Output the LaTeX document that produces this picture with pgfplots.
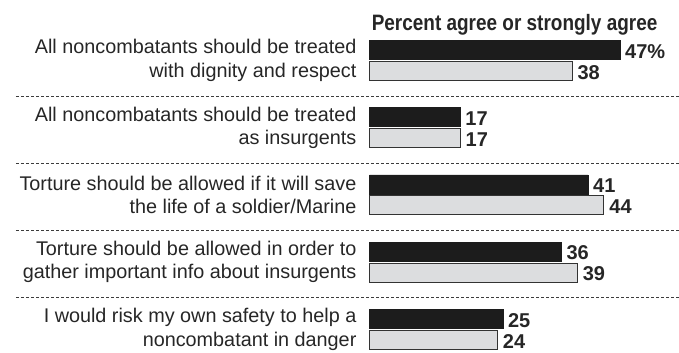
\documentclass[border=0pt]{standalone}
\usepackage{fontspec}
\setmainfont{Liberation Sans}
\newfontfamily\titlefont[FakeStretch=0.85]{Liberation Sans Bold}
\usepackage{pgfplots}
\pgfplotsset{compat=1.18}
\definecolor{barblack}{RGB}{28,28,28}
\definecolor{bargrey}{RGB}{220,221,223}
\definecolor{sepgrey}{RGB}{60,60,60}
\begin{document}
\begin{tikzpicture}
\begin{axis}[
  xbar,
  scale only axis,
  width=308.85pt, height=352pt,
  xmin=0, xmax=58,
  ymin=-0.338, ymax=4.897,
  clip=false,
  axis line style={draw=none},
  tick style={draw=none},
  major tick length=0pt,
  xtick=\empty,
  ytick={0,1,2,3,4},
  yticklabels={
    {I would risk my own safety to help a\\noncombatant in danger},
    {Torture should be allowed in order to\\gather important info about insurgents},
    {Torture should be allowed if it will save\\the life of a soldier/Marine},
    {All noncombatants should be treated\\as insurgents},
    {All noncombatants should be treated\\with dignity and respect}},
  yticklabel style={align=right, anchor=east, inner sep=0pt,
    font=\fontsize{19.8}{23.3}\selectfont, text=black!85},
  yticklabel shift=13pt,
  bar width=19pt,
  point meta=explicit symbolic,
  nodes near coords={\pgfplotspointmeta},
  nodes near coords style={anchor=west, inner sep=0pt, xshift=5pt, yshift=-1.5pt,
    font=\fontsize{20}{24}\selectfont\bfseries, text=black!85},
]
\addplot[bar shift=10.5pt, fill=barblack, draw=barblack, line width=0.5pt]
  coordinates {(47,4) [47\%] (17,3) [17] (41,2) [41] (36,1) [36] (25,0) [25]};
\addplot[bar shift=-10.5pt, fill=bargrey, draw=black!80, line width=1pt]
  coordinates {(38,4) [38] (17,3) [17] (44,2) [44] (39,1) [39] (24,0) [24]};
\pgfplotsinvokeforeach{3.46,2.47,1.47,0.47}{
  \draw[sepgrey, line width=0.9pt, dash pattern=on 3pt off 2pt]
    ([xshift=-353.5pt]axis cs:0,#1) -- (axis cs:58,#1);
}
\path ([xshift=-369.5pt]axis cs:0,4) -- (axis cs:0,4);
\node[anchor=base west, inner sep=0pt, xshift=2pt, text=black!85,
  font=\fontsize{22.3}{26}\titlefont] at (axis cs:0,4.45)
  {Percent agree or strongly agree};
\end{axis}
\end{tikzpicture}
\end{document}
